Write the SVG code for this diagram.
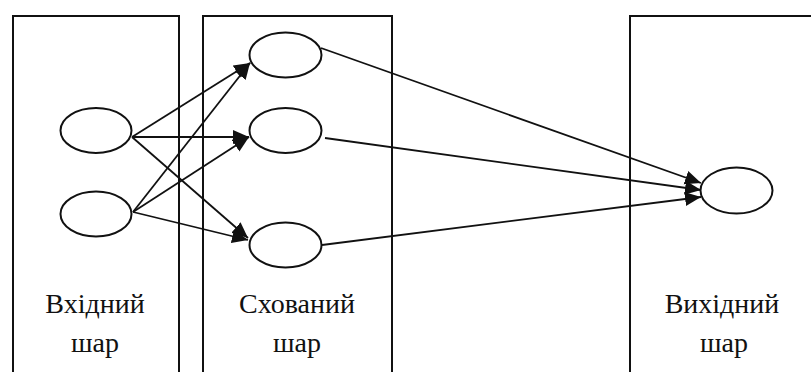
<svg xmlns="http://www.w3.org/2000/svg" width="811" height="372" viewBox="0 0 811 372">
<style>
.box{fill:none;stroke:#111;stroke-width:2}
.node{fill:#fff;stroke:#111;stroke-width:2}
.edge{stroke:#111;stroke-width:1.8;fill:none;marker-end:url(#ah)}
.lbl{font-family:"Liberation Serif","Times New Roman",serif;font-size:28px;fill:#111;text-anchor:middle}
</style>
<defs>
<marker id="ah" markerUnits="userSpaceOnUse" markerWidth="17" markerHeight="15" refX="16" refY="7" orient="auto">
<path d="M0,0 L16,7 L0,14 z" fill="#111"/>
</marker>
</defs>
<rect width="811" height="372" fill="#fff"/>
<g id="layer-input">
<rect class="box" x="13" y="16" width="166" height="370"/>
<text class="lbl" x="95" y="313">Вхідний</text>
<text class="lbl" x="95" y="352">шар</text>
</g>
<g id="layer-hidden">
<rect class="box" x="203" y="16" width="189" height="370"/>
<text class="lbl" x="297" y="313">Схований</text>
<text class="lbl" x="297" y="352">шар</text>
</g>
<g id="layer-output">
<rect class="box" x="630" y="16" width="200" height="370"/>
<text class="lbl" x="722" y="313">Вихідний</text>
<text class="lbl" x="724" y="352">шар</text>
</g>
<g id="connectors">
<line class="edge" x1="132" y1="137" x2="250" y2="63"/>
<line class="edge" x1="132" y1="137" x2="249" y2="137"/>
<line class="edge" x1="132" y1="137" x2="248" y2="238"/>
<line class="edge" x1="133" y1="212" x2="250" y2="63"/>
<line class="edge" x1="133" y1="212" x2="249" y2="137"/>
<line class="edge" x1="133" y1="212" x2="248" y2="240"/>
<line class="edge" x1="321" y1="48" x2="701" y2="183"/>
<line class="edge" x1="325" y1="138" x2="701" y2="190"/>
<line class="edge" x1="322" y1="245" x2="701" y2="197"/>
</g>
<g id="n-in1"><ellipse class="node" cx="96" cy="130.5" rx="35.5" ry="22.5"/></g>
<g id="n-in2"><ellipse class="node" cx="96" cy="214" rx="35.5" ry="22.5"/></g>
<g id="n-h1"><ellipse class="node" cx="285.5" cy="55" rx="36" ry="22.5"/></g>
<g id="n-h2"><ellipse class="node" cx="285.5" cy="130.5" rx="36" ry="22.5"/></g>
<g id="n-h3"><ellipse class="node" cx="285.5" cy="245" rx="36" ry="22.5"/></g>
<g id="n-out"><ellipse class="node" cx="736.5" cy="190.5" rx="36" ry="23"/></g>
</svg>
